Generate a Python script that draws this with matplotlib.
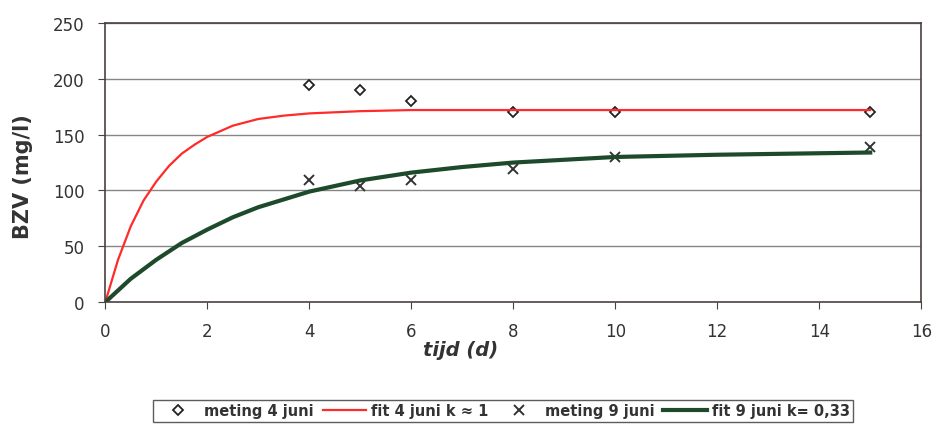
import matplotlib
matplotlib.use("Agg")
import matplotlib.pyplot as plt

plt.rcParams['font.family'] = ['DejaVu Sans']

# measurements
t_meas = [4, 5, 6, 8, 10, 15]
meting_4 = [194, 190, 180, 170, 170, 170]
meting_9 = [109, 104, 109, 119, 130, 139]

# fitted curves
t_fit4 = [0, 0.25, 0.5, 0.75, 1, 1.25, 1.5, 1.75, 2, 2.5, 3, 3.5, 4, 5, 6, 8, 10, 15]
fit_4 = [0, 38, 68, 91, 108, 122, 133, 141, 148, 158, 164, 167, 169, 171, 172, 172, 172, 172]
t_fit9 = [0, 0.5, 1, 1.5, 2, 2.5, 3, 3.5, 4, 5, 6, 7, 8, 10, 12, 15]
fit_9 = [0, 21, 38, 53, 65, 76, 85, 92, 99, 109, 116, 121, 125, 130, 132, 134]

labels = ['meting 4 juni', 'fit 4 juni k \u2248 1', 'meting 9 juni', 'fit 9 juni k= 0,33']

fig = plt.figure(figsize=(9.4, 4.35), dpi=100)
ax = fig.add_axes([0.112, 0.303, 0.868, 0.642])

edge = '#4a4040'
txt = '#333333'
for y in range(50, 251, 50):
    ax.axhline(y, color='#8a8585', lw=1.0, zorder=0)

h1, = ax.plot(t_meas, meting_4, linestyle='none', marker='D', markersize=5,
              markerfacecolor='white', markeredgecolor='#222222', markeredgewidth=1.3)
h2, = ax.plot(t_fit4, fit_4, color='#ff2a2a', lw=1.6)
h3, = ax.plot(t_meas, meting_9, linestyle='none', marker='x', markersize=7,
              color='#333333', markeredgewidth=1.4)
h4, = ax.plot(t_fit9, fit_9, color='#1e4a2c', lw=3)

ax.set_xlim(0, 16)
ax.set_ylim(0, 250)
ax.set_xticks(range(0, 17, 2))
ax.set_yticks(range(0, 251, 50))
for s in ax.spines.values():
    s.set_color(edge)
    s.set_linewidth(1.2)
ax.tick_params(direction='out', length=5, color=edge, labelsize=12, labelcolor=txt)
ax.tick_params(axis='x', pad=9)
ax.tick_params(axis='y', pad=10)

ax.set_xlabel('tijd (d)', fontsize=14, fontweight='bold', fontstyle='italic', color=txt)
ax.xaxis.set_label_coords(0.435, -0.135)
ax.set_ylabel('BZV (mg/l)', fontsize=15, fontweight='bold', color=txt)
ax.yaxis.set_label_coords(-0.088, 0.454)

leg = fig.legend([h1, h2, h3, h4], labels, loc='center', bbox_to_anchor=(0.535, 0.053),
                 ncol=4, frameon=True, fancybox=False, handlelength=3.0,
                 columnspacing=0.6, handletextpad=0.3, borderpad=0.25,
                 prop={'size': 10.5, 'weight': 'bold'})
for t in leg.get_texts():
    t.set_color(txt)
leg.get_frame().set_edgecolor('#333333')
leg.get_frame().set_linewidth(1.0)

fig.savefig('out.png', dpi=100)
